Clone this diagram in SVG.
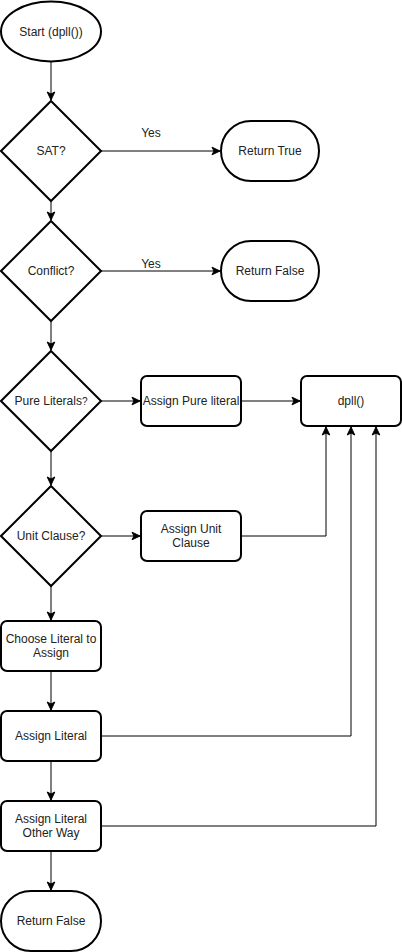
<svg xmlns="http://www.w3.org/2000/svg" width="402" height="952" viewBox="0 0 402 952">
<defs>
<style>
.n{fill:#fff;stroke:#000;stroke-width:2}
.c{fill:none;stroke:#000;stroke-width:1}
text{font-family:"Liberation Sans",Arial,sans-serif;font-size:12px;fill:#222;text-anchor:middle}
</style>
<marker id="a" markerUnits="userSpaceOnUse" markerWidth="10" markerHeight="10" viewBox="0 0 10 10" refX="9" refY="5" orient="auto">
<path d="M1,1.2 L9,5 L1,8.8 L3,5 Z" fill="#000" stroke="#000" stroke-width="1"/>
</marker>
</defs>
<rect width="402" height="952" fill="#fff"/>
<g id="connectors">
<path class="c" marker-end="url(#a)" d="M51,62 V100"/>
<path class="c" marker-end="url(#a)" d="M101,151 H220"/>
<path class="c" marker-end="url(#a)" d="M51,201 V220"/>
<path class="c" marker-end="url(#a)" d="M101,271 H220"/>
<path class="c" marker-end="url(#a)" d="M51,321 V350"/>
<path class="c" marker-end="url(#a)" d="M101,401 H140"/>
<path class="c" marker-end="url(#a)" d="M241,401 H300"/>
<path class="c" marker-end="url(#a)" d="M51,451 V485"/>
<path class="c" marker-end="url(#a)" d="M101,536 H140"/>
<path class="c" marker-end="url(#a)" d="M241,536 H326 V427"/>
<path class="c" marker-end="url(#a)" d="M51,586 V620"/>
<path class="c" marker-end="url(#a)" d="M51,671 V710"/>
<path class="c" marker-end="url(#a)" d="M101,736 H351 V427"/>
<path class="c" marker-end="url(#a)" d="M51,761 V800"/>
<path class="c" marker-end="url(#a)" d="M101,826 H376 V427"/>
<path class="c" marker-end="url(#a)" d="M51,851 V890"/>
<text x="151" y="137">Yes</text>
<text x="151" y="268">Yes</text>
</g>
<g id="start"><ellipse class="n" cx="51" cy="31.5" rx="50" ry="30"/><text x="51" y="35.5">Start (dpll())</text></g>
<g id="sat"><path class="n" d="M51,101 L101,151 L51,201 L1,151 Z"/><text x="51" y="155">SAT?</text></g>
<g id="returnTrue"><rect class="n" x="221" y="121" width="98" height="60" rx="30"/><text x="270" y="155">Return True</text></g>
<g id="conflict"><path class="n" d="M51,221 L101,271 L51,321 L1,271 Z"/><text x="51" y="275">Conflict?</text></g>
<g id="returnFalse1"><rect class="n" x="221" y="241" width="98" height="60" rx="30"/><text x="270" y="275">Return False</text></g>
<g id="pure"><path class="n" d="M51,351 L101,401 L51,451 L1,401 Z"/><text x="51" y="405">Pure Literals<tspan font-size="10">?</tspan></text></g>
<g id="assignPure"><rect class="n" x="141" y="376" width="100" height="50" rx="6"/><text x="191" y="405">Assign Pure literal</text></g>
<g id="dpll"><rect class="n" x="301" y="376" width="100" height="50" rx="6"/><text x="351" y="405">dpll()</text></g>
<g id="unit"><path class="n" d="M51,486 L101,536 L51,586 L1,536 Z"/><text x="51" y="540">Unit Clause?</text></g>
<g id="assignUnit"><rect class="n" x="141" y="511" width="100" height="50" rx="6"/><text x="191" y="533">Assign Unit</text><text x="191" y="547">Clause</text></g>
<g id="choose"><rect class="n" x="1" y="621" width="100" height="50" rx="6"/><text x="51" y="643">Choose Literal to</text><text x="51" y="657">Assign</text></g>
<g id="assignLiteral"><rect class="n" x="1" y="711" width="100" height="50" rx="6"/><text x="51" y="740">Assign Literal</text></g>
<g id="otherWay"><rect class="n" x="1" y="801" width="100" height="50" rx="6"/><text x="51" y="823">Assign Literal</text><text x="51" y="837">Other Way</text></g>
<g id="returnFalse2"><rect class="n" x="1" y="891" width="100" height="60" rx="30"/><text x="51" y="925">Return False</text></g>
</svg>
